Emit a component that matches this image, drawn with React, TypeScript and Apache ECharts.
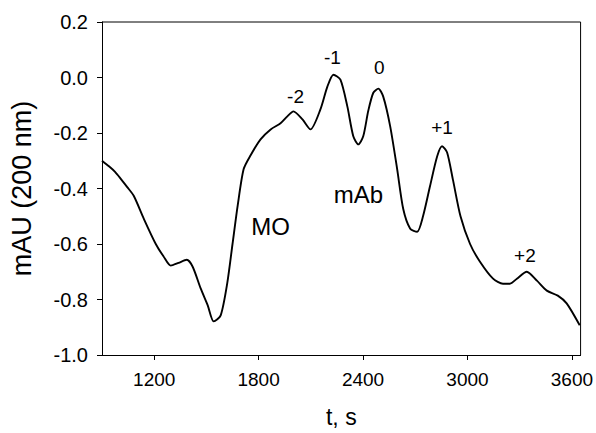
import React, { useEffect, useRef } from "react";
import * as echarts from "echarts";

const times = [
  900, 940, 975, 1009, 1045, 1083, 1141, 1209, 1255, 1295, 1340, 1387, 1421,
  1467, 1507, 1542, 1582, 1620, 1650, 1680, 1714, 1754, 1811, 1869, 1926, 1965,
  2000, 2052, 2098, 2155, 2195, 2230, 2270, 2310, 2344, 2373, 2401, 2430, 2459,
  2488, 2516, 2556, 2596, 2631, 2671, 2711, 2745, 2785, 2826, 2854, 2883, 2917,
  2960, 3015, 3072, 3147, 3204, 3244, 3284, 3341, 3399, 3456, 3519, 3570, 3645,
];
const absorbance = [
  -0.3, -0.32, -0.34, -0.366, -0.395, -0.427, -0.51, -0.6, -0.646, -0.678,
  -0.668, -0.657, -0.682, -0.76, -0.82, -0.879, -0.857, -0.74, -0.6, -0.46, -0.33,
  -0.28, -0.223, -0.187, -0.165, -0.14, -0.122, -0.151, -0.187, -0.115, -0.033, 0.01,
  -0.008, -0.105, -0.212, -0.241, -0.212, -0.12, -0.055, -0.04, -0.069, -0.176,
  -0.33, -0.474, -0.545, -0.556, -0.499, -0.391, -0.284, -0.248, -0.27, -0.37,
  -0.5, -0.6, -0.664, -0.725, -0.743, -0.743, -0.725, -0.7, -0.732, -0.768, -0.786,
  -0.814, -0.893,
];

const xTicks = [1200, 1800, 2400, 3000, 3600];
const X_MIN = 900;
const X_MAX = 3650;
const Y_MIN = -1;
const Y_MAX = 0.2;

const peakLabels = ["-2", "-1", "0", "+1", "+2"];
const peakT = [2012, 2224, 2493, 2854, 3330];
const peakV = [-0.069, 0.071, 0.035, -0.18, -0.642];

const bigLabels = ["MO", "mAb"];
const bigT = [1869, 2373];
const bigV = [-0.538, -0.42];

const FONT = "Liberation Sans, Arial, sans-serif";

export default function App() {
  const ref = useRef<HTMLDivElement>(null);
  useEffect(() => {
    if (!ref.current) return;
    const chart = echarts.init(ref.current, null, { renderer: "svg" });
    const labelStyle = (size: number) => ({
      show: true,
      position: "inside",
      formatter: (p: any) => p.name,
      fontFamily: FONT,
      fontSize: size,
      color: "#000",
      opacity: 1,
      textBorderWidth: 0,
    });
    chart.setOption({
      animation: false,
      backgroundColor: "#fff",
      grid: { left: 101, top: 22, right: 15, bottom: 76 },
      xAxis: {
        type: "value",
        min: X_MIN,
        max: X_MAX,
        name: "t, s",
        nameLocation: "middle",
        nameGap: 50,
        nameTextStyle: { fontFamily: FONT, fontSize: 23, color: "#000" },
        axisLine: { show: true, onZero: false, lineStyle: { color: "#000", width: 1 } },
        axisTick: { show: true, length: 5, customValues: xTicks, lineStyle: { color: "#000" } },
        axisLabel: {
          customValues: xTicks,
          fontFamily: FONT,
          fontSize: 19,
          color: "#000",
          margin: 15,
          formatter: (v: number) => String(v),
        },
        splitLine: { show: false },
      },
      yAxis: {
        type: "value",
        min: Y_MIN,
        max: Y_MAX,
        interval: 0.2,
        name: "mAU (200 nm)",
        nameLocation: "middle",
        nameGap: 67,
        nameTextStyle: { fontFamily: FONT, fontSize: 27, color: "#000" },
        axisLine: { show: true, onZero: false, lineStyle: { color: "#000", width: 1 } },
        axisTick: { show: true, length: 5, lineStyle: { color: "#000" } },
        axisLabel: {
          fontFamily: FONT,
          fontSize: 20,
          color: "#000",
          margin: 14,
          formatter: (v: number) => {
            const r = Math.round(v * 10) / 10;
            return (r === 0 ? 0 : r).toFixed(1);
          },
        },
        splitLine: { show: false },
      },
      series: [
        {
          type: "line",
          data: times.map((t, i) => [t, absorbance[i]]),
          showSymbol: false,
          smooth: 0.25,
          lineStyle: { color: "#000", width: 1.9 },
          z: 3,
        },
        {
          type: "line",
          silent: true,
          clip: false,
          showSymbol: false,
          symbol: "none",
          data: [
            [X_MIN, Y_MAX],
            [X_MAX, Y_MAX],
            [X_MAX, Y_MIN],
          ],
          lineStyle: { color: "#000", width: 1 },
          z: 5,
        },
        {
          type: "scatter",
          symbolSize: 0,
          itemStyle: { opacity: 1 },
          data: peakT.map((t, i) => ({ value: [t, peakV[i]], name: peakLabels[i] })),
          label: labelStyle(19),
          z: 4,
        },
        {
          type: "scatter",
          symbolSize: 0,
          itemStyle: { opacity: 1 },
          data: bigT.map((t, i) => ({ value: [t, bigV[i]], name: bigLabels[i] })),
          label: labelStyle(24),
          z: 4,
        },
      ],
    });
    return () => chart.dispose();
  }, []);
  return <div ref={ref} style={{ width: 596, height: 433, position: "absolute", left: 0, top: 0 }} />;
}
